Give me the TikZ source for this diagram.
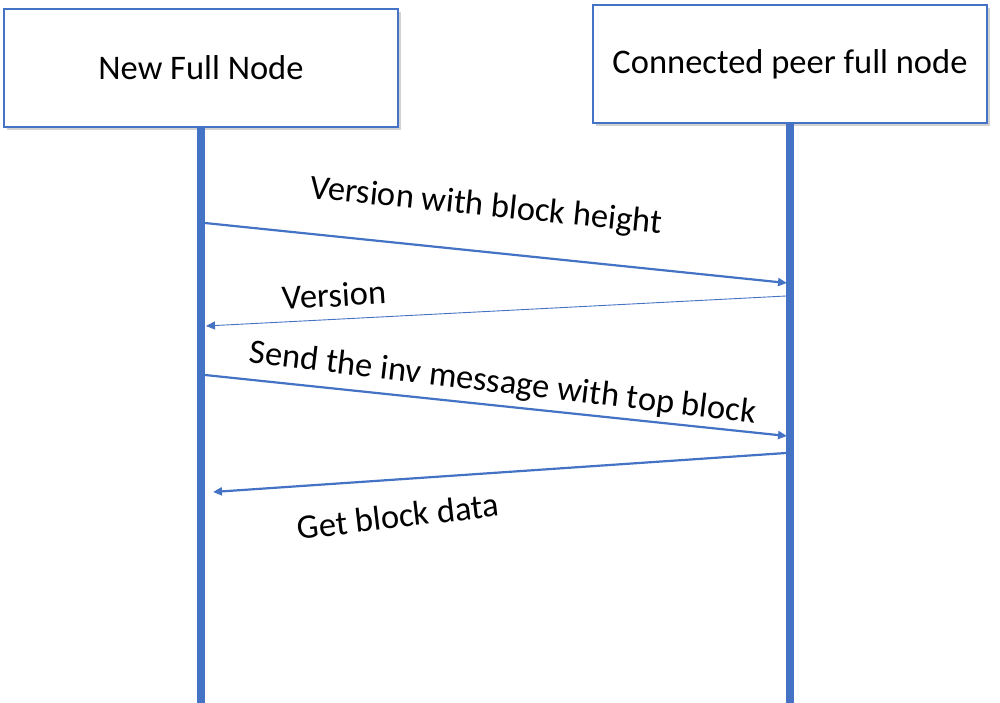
\documentclass[tikz,border=0pt]{standalone}
\usepackage{fontspec}
\setmainfont{Carlito}
\usetikzlibrary{arrows.meta,shadows}
\definecolor{officeblue}{HTML}{4472C4}
\begin{document}
\begin{tikzpicture}[x=1pt,y=-1pt,
  actor/.style={draw=officeblue, line width=2pt, fill=white, minimum width=394pt, minimum height=118pt, inner sep=0pt,
    font=\fontsize{34.5}{40}\selectfont, drop shadow={shadow xshift=3pt, shadow yshift=-3pt, fill=black!35, opacity=0.5}},
  life/.style={draw=officeblue, line width=8pt},
  msg/.style={draw=officeblue, line width=2.2pt, -{Triangle[length=9pt,width=8pt]}},
  thinmsg/.style={draw=officeblue, line width=0.9pt, -{Triangle[length=9pt,width=8pt]}},
  lbl/.style={font=\fontsize{34.5}{40}\selectfont, inner sep=0pt}]
\useasboundingbox (0,0) rectangle (1000,703);
% actors
\node[actor] (A) at (201,68) {New Full Node};
\node[actor] (B) at (790,64) {Connected peer full node};
% lifeline ends
\coordinate (Aend) at (201,703);
\coordinate (Bend) at (790,703);
\draw[life] (A.south) -- (Aend);
\draw[life] (B.south) -- (Bend);
% message end points
\coordinate (m1s) at (205,223);
\coordinate (m1e) at (787,283);
\coordinate (m2s) at (786,296);
\coordinate (m2e) at (206,326);
\coordinate (m3s) at (205,375);
\coordinate (m3e) at (787,436);
\coordinate (m4s) at (786,453);
\coordinate (m4e) at (213,492);
\draw[msg] (m1s) -- (m1e);
\draw[thinmsg] (m2s) -- (m2e);
\draw[msg] (m3s) -- (m3e);
\draw[msg] (m4s) -- (m4e);
% labels
\node[lbl, rotate=-5.8] (l1) at (486,207) {Version with block height};
\node[lbl, rotate=3.5] (l2) at (334,295) {Version};
\node[lbl, rotate=-6.8] (l3) at (503,384) {Send the inv message with top block};
\node[lbl, rotate=6.7] (l4) at (398,516) {Get block data};
\end{tikzpicture}
\end{document}
